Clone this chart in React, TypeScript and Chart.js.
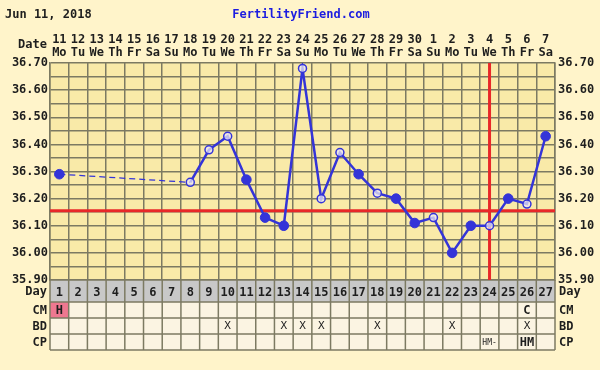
import React, { useEffect, useRef } from "react";
import { Chart, registerables } from "chart.js";

Chart.register(...registerables);

// ---- data ----
const cycleDays = ["1","2","3","4","5","6","7","8","9","10","11","12","13","14","15","16","17","18","19","20","21","22","23","24","25","26","27"];
const dates = ["11","12","13","14","15","16","17","18","19","20","21","22","23","24","25","26","27","28","29","30","1","2","3","4","5","6","7"];
const weekdays = ["Mo","Tu","We","Th","Fr","Sa","Su","Mo","Tu","We","Th","Fr","Sa","Su","Mo","Tu","We","Th","Fr","Sa","Su","Mo","Tu","We","Th","Fr","Sa"];
const temps: (number | null)[] = [36.29, null, null, null, null, null, null, 36.26, 36.38, 36.43, 36.27, 36.13, 36.10, 36.68, 36.20, 36.37, 36.29, 36.22, 36.20, 36.11, 36.13, 36.00, 36.10, 36.10, 36.20, 36.18, 36.43];
const openPoint = [false, false, false, false, false, false, false, true, true, true, false, false, false, true, true, true, false, true, false, false, true, false, false, true, false, true, false];
const cmRow = ["H","","","","","","","","","","","","","","","","","","","","","","","","","C",""];
const bdRow = ["","","","","","","","","","X","","","X","X","X","","","X","","","","X","","","","X",""];
const cpRow = ["","","","","","","","","","","","","","","","","","","","","","","","HM-","","HM",""];
const coverline = 36.155;
const ovulationDay = "24";
const yMin = 35.9;
const yMax = 36.7;
const headerDate = "Jun 11, 2018";
const siteName = "FertilityFriend.com";

// ---- styles ----
const FONT = "'DejaVu Sans Mono', monospace";
const outerBg = "#FFF4CA";
const plotBg = "#F9EAA8";
const cellBg = "#FBF4E2";
const dayRowBg = "#C8C8C8";
const gridColor = "#7C7A62";
const textColor = "#1E1E1E";
const lineBlue = "#3434D8";
const red = "#E82828";

const pagePlugin = {
  id: "page",
  beforeDraw(chart: any) {
    const { ctx, chartArea: a } = chart;
    ctx.save();
    ctx.fillStyle = outerBg;
    ctx.fillRect(0, 0, chart.width, chart.height);
    ctx.fillStyle = plotBg;
    ctx.fillRect(a.left, a.top, a.right - a.left, a.bottom - a.top);
    const dayTop = a.bottom, dayBot = a.bottom + 22;
    ctx.fillStyle = dayRowBg;
    ctx.fillRect(a.left, dayTop, a.right - a.left, dayBot - dayTop);
    ctx.fillStyle = cellBg;
    ctx.fillRect(a.left, dayBot, a.right - a.left, 48);
    const x = chart.scales.x;
    const cw = (a.right - a.left) / cycleDays.length;
    cmRow.forEach((t, i) => {
      if (t === "H") {
        ctx.fillStyle = "#EE7890";
        const cx = x.getPixelForValue(i);
        ctx.fillRect(cx - cw / 2, dayBot, cw, 16);
      }
    });
    ctx.restore();
  },
  beforeDatasetsDraw(chart: any) {
    const { ctx, chartArea: a } = chart;
    const y = chart.scales.y;
    const x = chart.scales.x;
    ctx.save();
    ctx.strokeStyle = red;
    ctx.lineWidth = 3;
    const yc = y.getPixelForValue(coverline);
    ctx.beginPath();
    ctx.moveTo(a.left, yc);
    ctx.lineTo(a.right, yc);
    ctx.stroke();
    const xo = x.getPixelForValue(cycleDays.indexOf(ovulationDay));
    ctx.beginPath();
    ctx.moveTo(xo, a.top);
    ctx.lineTo(xo, a.bottom);
    ctx.stroke();
    ctx.restore();
  },
  afterDraw(chart: any) {
    const { ctx, chartArea: a } = chart;
    const x = chart.scales.x;
    const cw = (a.right - a.left) / cycleDays.length;
    const dayBot = a.bottom + 22;
    const rowH = 16;
    ctx.save();
    ctx.strokeStyle = gridColor;
    ctx.lineWidth = 1.5;
    for (let r = 0; r <= 3; r++) {
      const yy = dayBot + r * rowH;
      ctx.beginPath();
      ctx.moveTo(a.left, yy);
      ctx.lineTo(a.right, yy);
      ctx.stroke();
    }
    for (let i = 0; i <= cycleDays.length; i++) {
      const xx = a.left + i * cw;
      ctx.beginPath();
      ctx.moveTo(xx, a.bottom);
      ctx.lineTo(xx, dayBot + 3 * rowH);
      ctx.stroke();
    }
    ctx.fillStyle = textColor;
    ctx.textBaseline = "middle";
    const rows = [cmRow, bdRow, cpRow];
    rows.forEach((row, r) => {
      row.forEach((t, i) => {
        if (!t) return;
        const cx = x.getPixelForValue(i);
        const cy = dayBot + r * rowH + rowH / 2 + 0.5;
        ctx.textAlign = "center";
        if (t === "X") ctx.font = `11px ${FONT}`;
        else if (t === "HM-") ctx.font = `8px ${FONT}`;
        else ctx.font = `bold 12px ${FONT}`;
        ctx.fillText(t, cx, cy);
      });
    });
    ctx.font = `bold 12px ${FONT}`;
    const labels = [["Day", a.bottom + 11], ["CM", dayBot + 8], ["BD", dayBot + 24], ["CP", dayBot + 40]] as [string, number][];
    labels.forEach(([t, yy]) => {
      ctx.textAlign = "right";
      ctx.fillText(t, a.left - 3, yy + 0.5);
      ctx.textAlign = "left";
      ctx.fillText(t, a.right + 4, yy + 0.5);
    });
    ctx.textAlign = "right";
    ctx.fillText("Date", a.left - 3, 45);
    ctx.textAlign = "left";
    ctx.fillText(headerDate, 5, 15);
    ctx.textAlign = "center";
    ctx.fillStyle = "#1C1CE0";
    ctx.fillText(siteName, 301, 15);
    ctx.restore();
  },
};

const yTick = (v: any) => {
  const r = Math.round(Number(v) * 100);
  return r % 10 === 0 ? (r / 100).toFixed(2) : "";
};

const gapped = (ctx: any, value: any) => (ctx.p0.skip || ctx.p1.skip ? value : undefined);

export default function App() {
  const ref = useRef<HTMLCanvasElement>(null);
  useEffect(() => {
    document.body.style.margin = "0";
    const canvas = ref.current!;
    const font = { family: FONT, size: 12, weight: "bold" as const };
    const chart = new Chart(canvas, {
      type: "line",
      data: {
        labels: cycleDays,
        datasets: [
          {
            data: temps,
            spanGaps: true,
            borderColor: lineBlue,
            borderWidth: 2.5,
            pointRadius: openPoint.map((o) => (o ? 4 : 4.8)),
            pointBorderWidth: openPoint.map((o) => (o ? 1.5 : 1)),
            pointBackgroundColor: openPoint.map((o) => (o ? "rgba(232,230,245,0.75)" : lineBlue)),
            pointBorderColor: lineBlue,
            segment: {
              borderDash: (ctx: any) => gapped(ctx, [6, 4]),
              borderWidth: (ctx: any) => gapped(ctx, 1.3),
            },
            tension: 0,
          },
        ],
      },
      options: {
        responsive: false,
        animation: false,
        layout: { padding: 0 },
        plugins: { legend: { display: false }, tooltip: { enabled: false }, title: { display: false } },
        scales: {
          x: {
            type: "category",
            position: "bottom",
            offset: true,
            grid: { offset: true, color: gridColor, lineWidth: 1.5, drawTicks: false },
            border: { color: gridColor, width: 1.5 },
            ticks: { font, color: textColor, padding: 6, autoSkip: false, maxRotation: 0 },
            afterFit: (s: any) => { s.height = 90; },
          },
          xTop: {
            type: "category",
            position: "top",
            offset: true,
            grid: { display: false, drawTicks: false },
            border: { display: false },
            ticks: {
              font: { ...font, lineHeight: 1.05 },
              color: textColor,
              padding: 4,
              autoSkip: false,
              maxRotation: 0,
              callback: (_v: any, i: number) => [dates[i], weekdays[i]],
            },
            afterFit: (s: any) => { s.height = 63; },
          },
          y: {
            position: "left",
            min: yMin,
            max: yMax,
            grid: { color: gridColor, lineWidth: 1.5, drawTicks: false },
            border: { color: gridColor, width: 1.5 },
            ticks: { stepSize: 0.05, autoSkip: false, font, color: textColor, padding: 2, callback: yTick },
            afterFit: (s: any) => { s.width = 50; },
          },
          yR: {
            position: "right",
            min: yMin,
            max: yMax,
            grid: { display: false, drawTicks: false },
            border: { color: gridColor, width: 1.5 },
            ticks: { stepSize: 0.05, autoSkip: false, font, color: textColor, padding: 3, callback: yTick },
            afterFit: (s: any) => { s.width = 45; },
          },
        },
      } as any,
      plugins: [pagePlugin],
    });
    return () => chart.destroy();
  }, []);
  return <canvas ref={ref} width={600} height={370} style={{ display: "block" }} />;
}
